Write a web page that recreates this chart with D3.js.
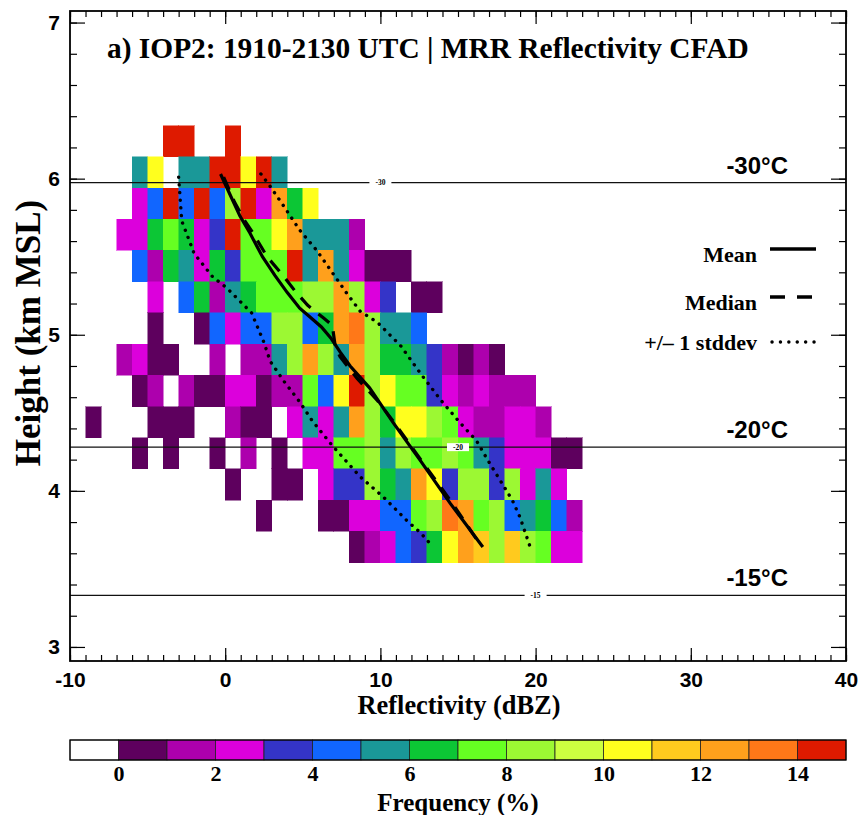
<!DOCTYPE html>
<html>
<head>
<meta charset="utf-8">
<script src="https://cdn.jsdelivr.net/npm/d3@7"></script>
<style>
  body { margin: 0; background: #fff; }
  svg { display: block; }
</style>
</head>
<body>
<svg id="chart" width="858" height="815"></svg>
<script>
// Reflectivity bins (lower edge, dBZ), 1 dBZ wide
const dbzBinStarts = [-9,-8,-7,-6,-5,-4,-3,-2,-1,0,1,2,3,4,5,6,7,8,9,10,11,12,13,14,15,16,17,18,19,20,21,22];
// Range-gate centre heights (km MSL), 0.2 km deep
const heights = [6.24,6.04,5.84,5.64,5.44,5.24,5.04,4.84,4.64,4.44,4.24,4.04,3.84,3.64];
// Frequency (%) per height row and reflectivity bin; 0 = no echo
const freq = [
  [0,0,0,0,0,14.5,14.5,0,0,14.5,0,0,0,0,0,0,0,0,0,0,0,0,0,0,0,0,0,0,0,0,0,0],
  [0,0,0,5.5,10.5,0,5.5,5.5,14.5,14.5,10.5,14.5,5.5,0,0,0,0,0,0,0,0,0,0,0,0,0,0,0,0,0,0,0],
  [0,0,0,2.5,4.5,14.5,4.5,14.5,4.5,8.5,14.5,2.5,12.5,6.5,10.5,0,0,0,0,0,0,0,0,0,0,0,0,0,0,0,0,0],
  [0,0,2.5,2.5,6.5,7.5,6.5,2.5,3.5,14.5,7.5,7.5,10.5,12.5,5.5,5.5,5.5,1.5,0,0,0,0,0,0,0,0,0,0,0,0,0,0],
  [0,0,0,4.5,1.5,6.5,5.5,2.5,6.5,3.5,7.5,7.5,7.5,14.5,5.5,12.5,5.5,2.5,0.5,0.5,0.5,0,0,0,0,0,0,0,0,0,0,0],
  [0,0,0,0,2.5,0,4.5,6.5,1.5,5.5,6.5,7.5,7.5,7.5,8.5,8.5,12.5,8.5,2.5,3.5,0,0.5,0.5,0,0,0,0,0,0,0,0,0],
  [0,0,0,0,0.5,0,0,0.5,4.5,2.5,4.5,4.5,8.5,8.5,4.5,6.5,12.5,13.5,8.5,5.5,5.5,4.5,0,0,0,0,0,0,0,0,0,0],
  [0,0,1.5,2.5,0.5,0.5,0,0,1.5,0,1.5,1.5,5.5,8.5,12.5,8.5,5.5,12.5,8.5,6.5,6.5,5.5,3.5,1.5,0.5,1.5,0.5,0,0,0,0,0],
  [0,0,0,0.5,1.5,0,1.5,0.5,0.5,2.5,2.5,0.5,1.5,1.5,7.5,4.5,10.5,14.5,8.5,10.5,7.5,7.5,3.5,2.5,1.5,2.5,1.5,1.5,1.5,0,0,0],
  [0.5,0,0,0,0.5,0.5,0.5,0,0,1.5,0.5,0.5,0,2.5,5.5,2.5,5.5,12.5,8.5,6.5,10.5,10.5,8.5,7.5,2.5,1.5,1.5,2.5,2.5,1.5,0,0],
  [0,0,0,0.5,0,0.5,0,0,0.5,0,1.5,0,0.5,0,2.5,2.5,7.5,7.5,8.5,5.5,8.5,7.5,7.5,8.5,7.5,5.5,3.5,2.5,2.5,2.5,0.5,0.5],
  [0,0,0,0,0,0,0,0,0,0.5,0,0,0.5,0.5,0,2.5,3.5,3.5,8.5,6.5,5.5,12.5,10.5,3.5,8.5,8.5,3.5,8.5,2.5,5.5,2.5,0],
  [0,0,0,0,0,0,0,0,0,0,0,0.5,0,0,0,0.5,0.5,2.5,2.5,4.5,4.5,7.5,8.5,13.5,12.5,7.5,8.5,4.5,5.5,6.5,4.5,1.5],
  [0,0,0,0,0,0,0,0,0,0,0,0,0,0,0,0,0,0.5,1.5,2.5,4.5,3.5,6.5,10.5,12.5,11.5,8.5,11.5,8.5,7.5,2.5,2.5]
];

// Colour table: one colour per 1 % frequency class, white below 0
const freqBreaks = [0,1,2,3,4,5,6,7,8,9,10,11,12,13,14];
const freqColors = ["#ffffff","#5e005e","#ad00ad","#dc00dc","#3434c8","#1166ff","#1a9898","#0cc635",
                    "#66ff22","#9cf833","#ccff40","#ffff1e","#ffca1e","#ffa01c","#ff7818","#de1a00"];
const colorbarTicks = [0,2,4,6,8,10,12,14];

// Profiles (dBZ at height km)
const meanDbz    = [-0.3,0.3,0.95,1.6,2.4,3.2,4.0,4.8,5.5,6.2,6.8,7.4,8.05,9.3,10.8,12.6,14.5,16.6];
const meanHgt    = [6.03,5.90,5.76,5.65,5.50,5.38,5.27,5.17,5.11,5.05,4.98,4.89,4.80,4.66,4.44,4.19,3.92,3.64];
const medianDbz  = [-0.1,0.6,1.2,1.8,2.7,3.8,4.5,5.3,6.3,6.9,7.1,7.4,8.5,9.8,10.8,12.6,14.5,16.4];
const medianHgt  = [6.01,5.85,5.74,5.65,5.50,5.37,5.28,5.19,5.11,5.06,4.92,4.86,4.72,4.58,4.45,4.20,3.94,3.66];
const lowSdDbz   = [-3.0,-2.8,-2.0,-0.8,0.1,1.7,2.5,2.9,3.8,4.8,5.6,6.9,8.7,10.2,11.7,12.6,13.4];
const lowSdHgt   = [6.01,5.73,5.52,5.37,5.30,5.14,4.95,4.83,4.70,4.57,4.45,4.29,4.09,3.96,3.81,3.73,3.64];
const highSdDbz  = [2.3,2.9,3.8,4.8,5.9,7.1,7.8,8.7,9.8,11.3,12.6,13.9,15.1,16.2,16.9,17.7,18.5,19.0,19.65];
const highSdHgt  = [6.03,5.95,5.82,5.67,5.54,5.37,5.27,5.15,5.08,4.93,4.75,4.58,4.44,4.32,4.20,4.07,3.94,3.83,3.64];

// Isotherm heights (km) and where their inline labels sit (dBZ)
const isoTemps   = [-30,-20,-15];
const isoHeights = [5.975,4.28,3.33];
const isoLabelAt = [10,15,20];

const xTicks = [-10,0,10,20,30,40];
const yTicks = [3,4,5,6,7];

const svg = d3.select("#chart");
const serif = "'Liberation Serif','Times New Roman',serif";
const sans = "'Liberation Sans',Arial,sans-serif";
const plain = d => String(d);   // ASCII hyphen for negative labels

const plot = {left:70, right:846, top:11, bottom:661};
const x = d3.scaleLinear().domain([-10,40]).range([plot.left, plot.right]);
const y = d3.scaleLinear().domain([2.91,7.074]).range([plot.bottom, plot.top]);
const color = d3.scaleThreshold().domain(freqBreaks).range(freqColors);

// CFAD cells
const cells = [];
heights.forEach((h, r) => dbzBinStarts.forEach((d, c) => {
  const v = freq[r][c];
  if (v > 0) cells.push({d, h, v});
}));
svg.append("g").attr("shape-rendering","crispEdges")
  .selectAll("rect").data(cells).join("rect")
  .attr("x", c => x(c.d))
  .attr("y", c => y(c.h + 0.1))
  .attr("width", c => x(c.d + 1) - x(c.d))
  .attr("height", c => y(c.h - 0.1) - y(c.h + 0.1))
  .attr("fill", c => color(c.v))
  .attr("stroke", c => color(c.v))
  .attr("stroke-width", 0.5);

// Isotherms
const iso = svg.append("g");
isoTemps.forEach((t, i) => {
  const yy = y(isoHeights[i]);
  iso.append("line").attr("x1", plot.left).attr("x2", plot.right)
    .attr("y1", yy).attr("y2", yy).attr("stroke","#111").attr("stroke-width",1.3);
  const lx = x(isoLabelAt[i]);
  iso.append("rect").attr("x", lx - 11).attr("y", yy - 4).attr("width", 22).attr("height", 8).attr("fill","#fff");
  iso.append("text").attr("x", lx).attr("y", yy + 2.6).attr("text-anchor","middle")
    .attr("font-family", serif).attr("font-size", 7.5).attr("font-weight","bold").text(t);
  iso.append("text").attr("x", 788).attr("y", yy - 9).attr("text-anchor","end")
    .attr("font-family", sans).attr("font-size", 24).attr("font-weight","bold").text(t + "°C");
});

// Profile lines
const line = d3.line().x(p => x(p[0])).y(p => y(p[1]));
const zip = (a, b) => a.map((v, i) => [v, b[i]]);
const prof = svg.append("g").attr("fill","none").attr("stroke","#000");
prof.append("path").attr("d", line(zip(meanDbz, meanHgt))).attr("stroke-width",3.2);
prof.append("path").attr("d", line(zip(medianDbz, medianHgt))).attr("stroke-width",3.2)
  .attr("stroke-dasharray","14 10");
[zip(lowSdDbz, lowSdHgt), zip(highSdDbz, highSdHgt)].forEach(p =>
  prof.append("path").attr("d", line(p)).attr("stroke-width",3.4)
    .attr("stroke-linecap","round").attr("stroke-dasharray","0.1 7.6"));

// Legend
const lg = svg.append("g").attr("font-family", serif).attr("font-weight","bold").attr("font-size",22);
const legendRows = [["Mean",249,262,null],["Median",297,310,"15 12"],["+/\u2013 1 stddev",342,350,"0.1 8.3"]];
legendRows.forEach(([label, yy, base, dash]) => {
  lg.append("text").attr("x",757).attr("y",base).attr("text-anchor","end").text(label);
  const l = lg.append("line").attr("x1",770).attr("x2",816).attr("y1",yy).attr("y2",yy)
    .attr("stroke","#000").attr("stroke-width",3.4);
  if (dash) l.attr("stroke-dasharray",dash);
  if (dash && dash.startsWith("0.1")) l.attr("stroke-linecap","round").attr("x1",772);
});

// Axes with inward ticks on all four sides
const minorX = d3.range(-10, 41, 1);
const minorYv = d3.range(3.0, 7.01, 0.2).map(v => +v.toFixed(1)).filter(v => v > 2.91 && v < 7.07);
const axes = svg.append("g").attr("font-family", serif).attr("font-weight","bold");
function styleAxis(g){ g.select(".domain").remove(); g.selectAll("line").attr("stroke","#000").attr("stroke-width",1.2); }
axes.append("g").attr("transform",`translate(0,${plot.bottom})`)
  .call(d3.axisBottom(x).tickValues(minorX).tickSize(-6).tickFormat("")).call(styleAxis);
axes.append("g").attr("transform",`translate(0,${plot.bottom})`)
  .call(d3.axisBottom(x).tickValues(xTicks).tickSize(-13).tickPadding(11).tickFormat(plain)).call(styleAxis)
  .selectAll("text").attr("font-size",21).attr("fill","#000");
axes.append("g").attr("transform",`translate(0,${plot.top})`)
  .call(d3.axisTop(x).tickValues(minorX).tickSize(-6).tickFormat("")).call(styleAxis);
axes.append("g").attr("transform",`translate(0,${plot.top})`)
  .call(d3.axisTop(x).tickValues(xTicks).tickSize(-13).tickFormat("")).call(styleAxis);

axes.append("g").attr("transform",`translate(${plot.left},0)`)
  .call(d3.axisLeft(y).tickValues(minorYv).tickSize(-7).tickFormat("")).call(styleAxis);
axes.append("g").attr("transform",`translate(${plot.left},0)`)
  .call(d3.axisLeft(y).tickValues(yTicks).tickSize(-15).tickPadding(10).tickFormat(plain)).call(styleAxis)
  .selectAll("text").attr("font-size",21).attr("fill","#000");
axes.append("g").attr("transform",`translate(${plot.right},0)`)
  .call(d3.axisRight(y).tickValues(minorYv).tickSize(-7).tickFormat("")).call(styleAxis);
axes.append("g").attr("transform",`translate(${plot.right},0)`)
  .call(d3.axisRight(y).tickValues(yTicks).tickSize(-15).tickFormat("")).call(styleAxis);

svg.append("rect").attr("x",plot.left).attr("y",plot.top)
  .attr("width",plot.right-plot.left).attr("height",plot.bottom-plot.top)
  .attr("fill","none").attr("stroke","#000").attr("stroke-width",1.8);

// Titles
svg.append("text").attr("x",107).attr("y",58).attr("font-family",serif).attr("font-weight","bold")
  .attr("font-size",29.4).text("a) IOP2: 1910-2130 UTC | MRR Reflectivity CFAD");
svg.append("text").attr("x",459).attr("y",714).attr("text-anchor","middle")
  .attr("font-family",serif).attr("font-weight","bold").attr("font-size",26.4).text("Reflectivity (dBZ)");
svg.append("text").attr("transform",`translate(40,333) rotate(-90)`)
  .attr("text-anchor","middle").attr("font-family",serif).attr("font-weight","bold").attr("font-size",35)
  .text("Height (km MSL)");

// Colour bar
const cb = {left:70, right:846, top:740, bottom:760};
const cbx = d3.scaleLinear().domain([-1,15]).range([cb.left, cb.right]);
const cbg = svg.append("g");
cbg.selectAll("rect").data(freqColors).join("rect")
  .attr("x",(c,i)=>cbx(i-1)).attr("y",cb.top).attr("width",cbx(1)-cbx(0)).attr("height",cb.bottom-cb.top)
  .attr("fill",c=>c).attr("stroke","#222").attr("stroke-width",0.8);
cbg.append("rect").attr("x",cb.left).attr("y",cb.top).attr("width",cb.right-cb.left).attr("height",cb.bottom-cb.top)
  .attr("fill","none").attr("stroke","#000").attr("stroke-width",1.2);
cbg.append("g").attr("transform",`translate(0,${cb.bottom})`)
  .call(d3.axisBottom(cbx).tickValues(colorbarTicks).tickSize(0).tickPadding(5).tickFormat(plain))
  .call(g => g.select(".domain").remove())
  .selectAll("text").attr("font-family",serif).attr("font-weight","bold").attr("font-size",22).attr("fill","#000");
svg.append("text").attr("x",458).attr("y",811).attr("text-anchor","middle")
  .attr("font-family",serif).attr("font-weight","bold").attr("font-size",25).text("Frequency (%)");
</script>
</body>
</html>
